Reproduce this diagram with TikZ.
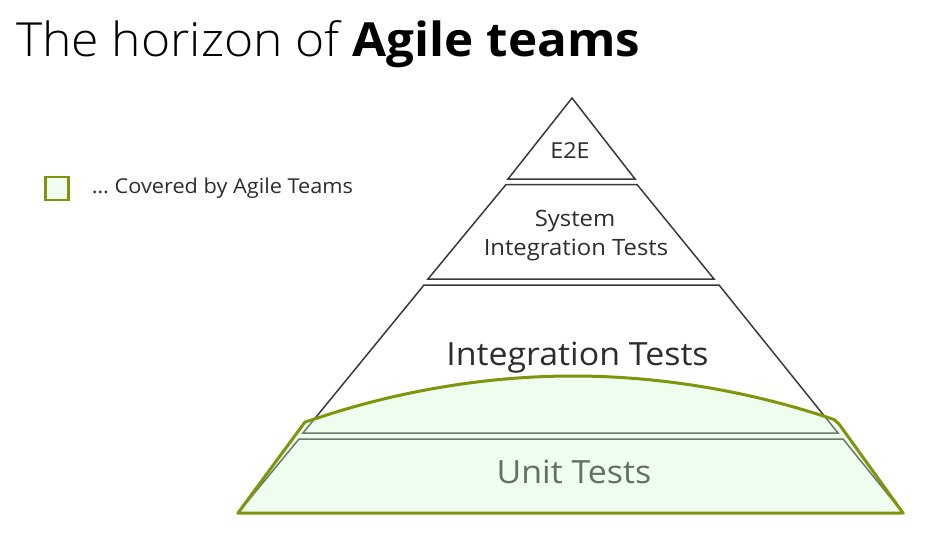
\documentclass[tikz,border=0pt]{standalone}
\usepackage{fontspec}
\setmainfont{Open Sans}[FakeStretch=1.06]
\IfFontExistsTF{Open Sans Light}{\newfontfamily\lightfont{Open Sans Light}[FakeStretch=1.06]}{\newfontfamily\lightfont{Open Sans}[FakeStretch=1.06]}
\IfFontExistsTF{Open Sans ExtraBold}{\newfontfamily\heavyfont{Open Sans ExtraBold}[FakeStretch=1.04]}{\newfontfamily\heavyfont{Open Sans Bold}[FakeStretch=1.05]}
\usepackage{tikz}
\usetikzlibrary{positioning}

\definecolor{linegray}{RGB}{58,58,58}
\definecolor{textgray}{RGB}{45,45,45}
\definecolor{agileolive}{RGB}{125,150,12}
\definecolor{agilefill}{RGB}{205,250,205}
\definecolor{legendfill}{RGB}{240,253,240}

\begin{document}
\begin{tikzpicture}[x=1pt, y=-1pt,
    layer/.style = {draw=linegray, line width=1.5pt, line join=miter},
    covered/.style = {draw=agileolive, line width=3pt, line join=round, fill=agilefill, fill opacity=0.33},
    lbl/.style = {text=textgray, inner sep=0pt, anchor=base}]
\fill[white] (0,0) rectangle (938,543);
\useasboundingbox (0,0) rectangle (938,543);

% title
\node[anchor=base west, inner sep=0pt, text=black] (title) at (16,57)
    {\fontsize{47}{56}\selectfont{\lightfont The horizon of} {\heavyfont Agile teams}};

% legend
\node[draw=agileolive, line width=2.5pt, fill=legendfill, minimum size=23pt, inner sep=0pt] (legbox) at (57,188.5) {};
\node[right=22pt of legbox, inner sep=0pt, text=textgray, font=\fontsize{20.5}{24}\selectfont] (legtext) {\dots\ Covered by Agile Teams};

% pyramid layers
\draw[layer] (572,98) -- (635,179) -- (508,179) -- cycle;
\draw[layer] (506,184.5) -- (637,184.5) -- (714,279) -- (428,279) -- cycle;
\draw[layer] (424,285) -- (719,285) -- (838,433) -- (303,433) -- cycle;
\draw[layer] (299,439) -- (843,439) -- (903,513) -- (238,513) -- cycle;

\node[lbl, font=\fontsize{22}{26}\selectfont] (e2e) at (570,158.3) {E2E};
\node[lbl, font=\fontsize{22.5}{27}\selectfont] (sys) at (575,226.7) {System};
\node[lbl, font=\fontsize{22.5}{27}\selectfont] (sysint) at (576,255) {Integration Tests};
\node[lbl, font=\fontsize{32}{38}\selectfont] (integ) at (577.5,365) {Integration Tests};
\node[lbl, font=\fontsize{32}{38}\selectfont] (unit) at (574,483) {Unit Tests};

% what the agile teams cover
\coordinate (cl) at (313,419.5);
\coordinate (top) at (573,376);
\coordinate (cr) at (834,419.5);
\draw[covered] (238,513) -- (305,422) -- (cl) parabola bend (top) (cr)
    -- (839,424) -- (903,513) -- cycle;
\end{tikzpicture}
\end{document}
